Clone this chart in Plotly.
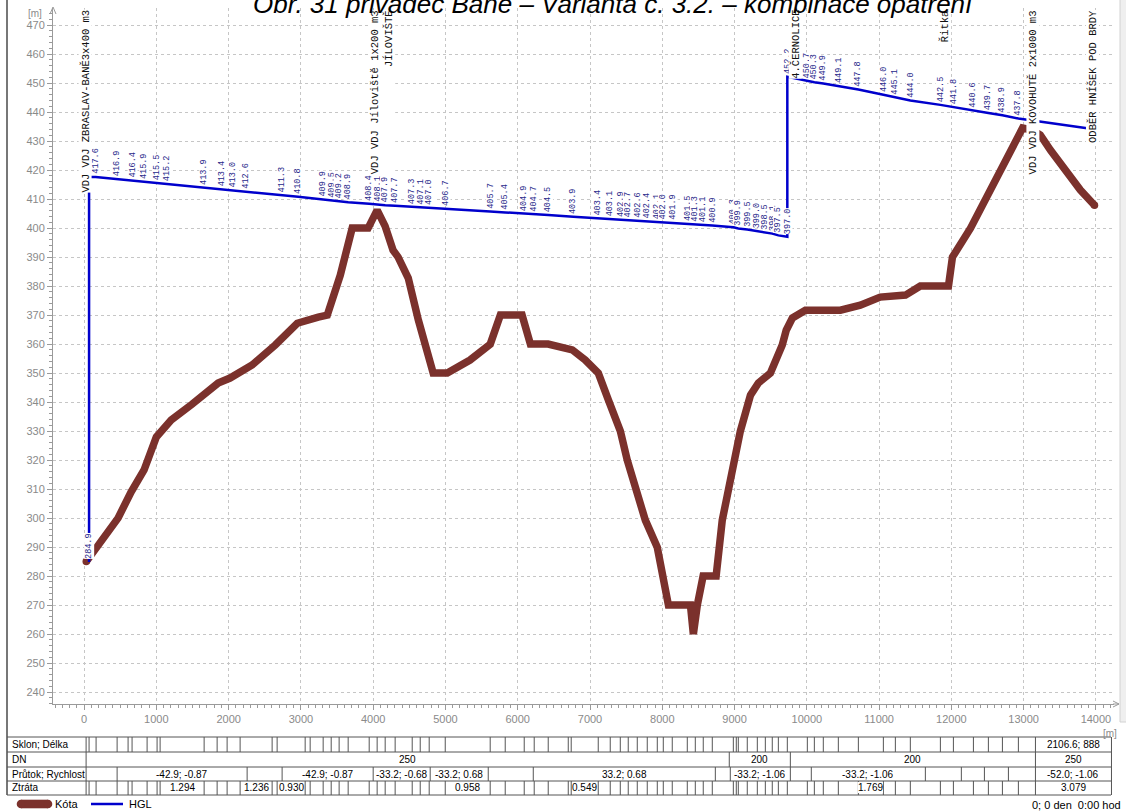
import plotly.graph_objects as go

# ---------------- profil: terén (kóta) ----------------
kota_st = [30, 470, 650, 830, 1000, 1205, 1495, 1855, 2020, 2325,
           2645, 2950, 3240, 3365, 3545, 3710, 3930, 4055, 4165, 4275,
           4345, 4485, 4625, 4750, 4830, 5025, 5340, 5620, 5760, 6060,
           6175, 6420, 6755, 6935, 7115, 7255, 7420, 7515, 7625, 7765,
           7930, 8000, 8085, 8390, 8430, 8485, 8565, 8745, 8830, 8900,
           8985, 9080, 9220, 9330, 9495, 9660, 9715, 9800, 9980, 10465,
           10740, 11015, 11365, 11570, 11960, 12015, 12265, 12470, 12680, 12885,
           12985, 13120, 13230, 13370, 13580, 13785, 13980]
kota_z = [285.0, 300.0, 309.0, 316.6, 328.0, 333.8, 339.3, 346.6, 348.3, 352.8,
          359.7, 367.2, 369.3, 370.0, 383.8, 400.0, 400.0, 406.2, 400.7, 392.4,
          390.0, 382.8, 368.3, 357.9, 350.0, 350.0, 354.5, 360.0, 370.0, 370.0,
          360.0, 360.0, 358.0, 354.5, 350.0, 340.7, 330.0, 320.0, 310.0, 299.3,
          290.0, 280.0, 270.0, 270.0, 260.0, 270.0, 280.0, 280.0, 299.3, 307.9,
          320.0, 330.0, 342.4, 346.6, 350.0, 359.7, 364.8, 369.0, 371.7, 371.7,
          373.4, 376.2, 376.9, 380.0, 380.0, 390.0, 400.0, 410.0, 420.0, 430.0,
          434.5, 433.8, 432.1, 426.9, 420.0, 413.1, 407.9]

# ---------------- čára energie (HGL) ----------------
hgl_st = [69, 69, 160, 457, 664, 830, 1010, 1149, 1661, 1910,
          2062, 2228, 2740, 2962, 3308, 3419, 3529, 3654, 3945, 4055,
          4166, 4304, 4540, 4651, 4775, 4997, 5619, 5827, 6090, 6228,
          6422, 6768, 7114, 7280, 7419, 7529, 7654, 7792, 7931, 8014,
          8138, 8346, 8457, 8567, 8692, 8983, 9052, 9176, 9315, 9426,
          9522, 9606, 9730, 9730, 10007, 10104, 10228, 10436, 10713, 11059,
          11225, 11432, 11848, 12028, 12305, 12512, 12706, 12927, 13952]
hgl_z = [284.9, 417.6, 417.6, 416.9, 416.4, 415.9, 415.5, 415.2, 413.9, 413.4,
         413.0, 412.6, 411.3, 410.8, 409.9, 409.5, 409.2, 408.9, 408.4, 408.1,
         407.9, 407.7, 407.3, 407.1, 407.0, 406.7, 405.7, 405.4, 404.9, 404.7,
         404.5, 403.9, 403.4, 403.1, 402.9, 402.7, 402.6, 402.4, 402.1, 402.0,
         401.9, 401.5, 401.3, 401.1, 400.9, 400.3, 399.9, 399.5, 399.0, 398.5,
         398.1, 397.5, 397.0, 452.2, 450.7, 450.3, 449.9, 449.1, 447.8, 446.0,
         445.1, 444.0, 442.5, 441.8, 440.6, 439.7, 438.9, 437.8, 434.2]
# uzel bez popisku (horní konec stoupačky u prvního VDJ)
bez_popisu = [1]

# ---------------- názvy uzlů ----------------
uzel_st = [14, 4125, 9840, 11900, 13121, 13952]
uzel_txt = ["VDJ VDJ ZBRASLAV-BANĚ3x400 m3",
            "VDJ VDJ Jílovištĕ 1x200 m3<br>JÍLOVIŠTĚ",
            "4.ČERNOLICE",
            "Řitka",
            "VDJ VDJ KOVOHUTĚ 2x1000 m3",
            "ODBĚR HNÍŠEK POD BRDY"]

# ---------------- tabulka úseků ----------------
tab_zacatek, tab_konec = 28, 14215
uzly_tab = [69, 166, 457, 609, 664, 872, 1010, 1052, 1661, 1841,
            1979, 2159, 2602, 2671, 3059, 3128, 3308, 3419, 3529, 3654,
            3945, 4055, 4166, 4304, 4540, 4651, 4775, 4997, 5619, 5827,
            6090, 6228, 6422, 6699, 6740, 7114, 7280, 7419, 7529, 7654,
            7792, 7931, 8014, 8138, 8346, 8457, 8567, 8692, 8983, 9024,
            9052, 9176, 9315, 9426, 9522, 9606, 9730, 10007, 10104, 10228,
            10436, 10713, 11059, 11225, 11432, 11848, 12028, 12305, 12512, 12706,
            12927, 13163]
sklon_txt = "2106.6; 888"            # poslední úsek
dn_hranice = [28, 8927, 9772, 13163, 14215]
dn_txt = ["250", "200", "200", "250"]
prutok_hranice = [28, 457, 2256, 2740, 4000, 4789, 5592, 6215, 8734, 8941,
                  9772, 10062, 11640, 12138, 12457, 12789, 13163, 14215]
prutok_txt = ["", "-42.9; -0.87", "", "-42.9; -0.87", "-33.2; -0.68", "-33.2; 0.68",
              "", "33.2; 0.68", "", "-33.2; -1.06", "", "-33.2; -1.06",
              "", "", "", "", "-52.0; -1.06"]
ztrata_od = [1052, 2159, 2671, 4997, 6740, 10713, 13163]
ztrata_do = [1661, 2602, 3059, 5619, 7114, 11059, 14215]
ztrata_txt = ["1.294", "1.236", "0.930", "0.958", "0.549", "1.769", "3.079"]
radky = ["Sklon; Délka", "DN", "Průtok; Rychlost", "Ztráta"]

# ---------------- vzhled ----------------
W, H = 1126, 811
ML, MR, MT, MB = 53, 12, 8, 107
PW = W - ML - MR
PH = H - MT - MB
C_KOTA = "#7b312c"
C_HGL = "#0000cc"
C_POPIS = "#27278a"
C_GRID = "#c6c6c6"
C_AX = "#9a9a9a"
C_TICK = "#8a8a8a"
C_TAB = "#555555"
F_SANS = "Liberation Sans, Arial, sans-serif"
F_MONO = "Liberation Mono, Courier New, monospace"


def px(xp):
    return (xp - ML) / PW


def py(yp):
    return (H - MB - yp) / PH


fig = go.Figure()
fig.add_trace(go.Scatter(x=kota_st, y=kota_z, mode="lines", name="Kóta",
                         line=dict(color=C_KOTA, width=7.5), hoverinfo="skip"))
fig.add_trace(go.Scatter(x=[kota_st[0], kota_st[-1]], y=[kota_z[0], kota_z[-1]],
                         mode="markers", marker=dict(color=C_KOTA, size=7.5),
                         hoverinfo="skip"))
fig.add_trace(go.Scatter(x=hgl_st, y=hgl_z, mode="lines", name="HGL",
                         line=dict(color=C_HGL, width=2.5), hoverinfo="skip"))

ann = []
shapes = []

# popisky hodnot HGL
for i, (s, z) in enumerate(zip(hgl_st, hgl_z)):
    if i in bez_popisu:
        continue
    ann.append(dict(x=s, y=z, xref="x", yref="y", text=f"{z:.1f}", textangle=-90,
                    showarrow=False, xanchor="center", yanchor="bottom", yshift=3,
                    font=dict(family=F_MONO, size=8.5, color=C_POPIS),
                    bgcolor="white", borderpad=0, borderwidth=0))

# názvy uzlů
for s, t in zip(uzel_st, uzel_txt):
    ann.append(dict(x=s, y=1, xref="x", yref="paper", text=t, textangle=-90,
                    showarrow=False, xanchor="center", yanchor="top", yshift=-2,
                    align="right", font=dict(family=F_MONO, size=10.5, color="#111111"),
                    bgcolor="white", borderpad=0, borderwidth=0))

# nadpis (horní okraj přesahuje okno)
ann.append(dict(x=px(614), y=py(21), xref="paper", yref="paper", showarrow=False,
                xanchor="center", yanchor="bottom",
                text="<i>Obr. 31 přivaděč Baně – Varianta č. 3.2. – kombinace opatření</i>",
                font=dict(family=F_SANS, size=26, color="black")))

# jednotky os
ann.append(dict(x=px(44), y=py(14), xref="paper", yref="paper", showarrow=False,
                xanchor="right", yanchor="middle", text="[m]",
                font=dict(family=F_SANS, size=10, color=C_TICK)))
ann.append(dict(x=px(1119), y=py(733), xref="paper", yref="paper", showarrow=False,
                xanchor="right", yanchor="middle", text="[m]",
                font=dict(family=F_SANS, size=10, color=C_TICK)))

# šipky na koncích os
shapes.append(dict(type="path", xref="paper", yref="paper",
                   path=f"M{px(50)},{py(14)} L{px(53)},{py(7)} L{px(56)},{py(14)}",
                   line=dict(color=C_AX, width=1)))
shapes.append(dict(type="line", xref="paper", yref="paper", x0=px(1113), x1=px(1119),
                   y0=py(704), y1=py(704), line=dict(color=C_AX, width=1)))
shapes.append(dict(type="path", xref="paper", yref="paper",
                   path=f"M{px(1113)},{py(701)} L{px(1119)},{py(704)} L{px(1113)},{py(707)}",
                   line=dict(color=C_AX, width=1)))

# levý rám okna a pruh vpravo
shapes.append(dict(type="line", xref="paper", yref="paper", x0=px(7), x1=px(7),
                   y0=py(-5), y1=py(795), line=dict(color="#4a4a4a", width=1.5)))
shapes.append(dict(type="rect", xref="paper", yref="paper", x0=px(1120), x1=px(1128),
                   y0=py(-5), y1=py(722), fillcolor="#efefef",
                   line=dict(color="#d2d2d2", width=1)))

# ---------------- tabulka ----------------
row_y = [737, 752, 767, 781, 795]
for yy in row_y:
    shapes.append(dict(type="line", xref="paper", yref="paper", x0=px(7), x1=px(1111),
                       y0=py(yy), y1=py(yy), line=dict(color=C_TAB, width=1)))
for xx in (tab_zacatek, tab_konec):
    shapes.append(dict(type="line", xref="x", yref="paper", x0=xx, x1=xx,
                       y0=py(737), y1=py(795), line=dict(color=C_TAB, width=1)))


def vline(st, r):
    shapes.append(dict(type="line", xref="x", yref="paper", x0=st, x1=st,
                       y0=py(row_y[r]), y1=py(row_y[r + 1]),
                       line=dict(color=C_TAB, width=1)))


def cell_text(a, b, r, t):
    ann.append(dict(x=(a + b) / 2, y=py((row_y[r] + row_y[r + 1]) / 2), xref="x",
                    yref="paper", text=t, showarrow=False, xanchor="center",
                    yanchor="middle", font=dict(family=F_SANS, size=10, color="black"),
                    bgcolor="white", borderpad=0, borderwidth=0))


for s in uzly_tab:
    vline(s, 0)
    vline(s, 3)
cell_text(uzly_tab[-1], tab_konec, 0, sklon_txt)
for s in dn_hranice[1:-1]:
    vline(s, 1)
for a, b, t in zip(dn_hranice[:-1], dn_hranice[1:], dn_txt):
    cell_text(a, b, 1, t)
for s in prutok_hranice[1:-1]:
    vline(s, 2)
for a, b, t in zip(prutok_hranice[:-1], prutok_hranice[1:], prutok_txt):
    if t:
        cell_text(a, b, 2, t)
for a, b, t in zip(ztrata_od, ztrata_do, ztrata_txt):
    cell_text(a, b, 3, t)

for r, t in enumerate(radky):
    ann.append(dict(x=px(10), y=py((row_y[r] + row_y[r + 1]) / 2), xref="paper",
                    yref="paper", text=t, showarrow=False, xanchor="left",
                    yanchor="middle", font=dict(family=F_SANS, size=10, color="black")))

# ---------------- legenda ----------------
ly = 804
shapes.append(dict(type="rect", xref="paper", yref="paper", x0=px(21), x1=px(48),
                   y0=py(ly - 4.3), y1=py(ly + 4.3), fillcolor=C_KOTA, line=dict(width=0)))
for cx in (21, 48):
    shapes.append(dict(type="circle", xref="paper", yref="paper", x0=px(cx - 4.3),
                       x1=px(cx + 4.3), y0=py(ly - 4.3), y1=py(ly + 4.3),
                       fillcolor=C_KOTA, line=dict(width=0)))
ann.append(dict(x=px(53), y=py(ly), xref="paper", yref="paper", text="Kóta",
                showarrow=False, xanchor="left", yanchor="middle",
                font=dict(family=F_SANS, size=11, color="black")))
shapes.append(dict(type="line", xref="paper", yref="paper", x0=px(91), x1=px(123),
                   y0=py(ly), y1=py(ly), line=dict(color=C_HGL, width=2.5)))
ann.append(dict(x=px(127), y=py(ly), xref="paper", yref="paper", text="HGL",
                showarrow=False, xanchor="left", yanchor="middle",
                font=dict(family=F_SANS, size=11, color="black")))
ann.append(dict(x=px(1123), y=py(805), xref="paper", yref="paper", text="0; 0 den  0:00 hod",
                showarrow=False, xanchor="right", yanchor="middle",
                font=dict(family=F_SANS, size=11, color="black")))

fig.update_layout(
    width=W, height=H, autosize=False,
    margin=dict(l=ML, r=MR, t=MT, b=MB, pad=0),
    paper_bgcolor="white", plot_bgcolor="white",
    showlegend=False, hovermode=False,
    font=dict(family=F_SANS, size=11, color="black"),
    xaxis=dict(range=[-430, 14250], tick0=0, dtick=1000, tickformat="d",
               showgrid=True, gridcolor=C_GRID, griddash="3px,3px", gridwidth=1,
               zeroline=False, showline=True, linecolor=C_AX, linewidth=1,
               ticks="outside", ticklen=5, tickcolor=C_AX,
               tickfont=dict(family=F_SANS, size=11, color=C_TICK),
               minor=dict(dtick=100, tick0=0, ticks="outside", ticklen=3,
                          tickcolor=C_AX, showgrid=False)),
    yaxis=dict(range=[235.9, 475.9], tick0=240, dtick=10, tickformat="d",
               showgrid=True, gridcolor=C_GRID, griddash="3px,3px", gridwidth=1,
               zeroline=False, showline=True, linecolor=C_AX, linewidth=1,
               ticks="outside", ticklen=5, tickcolor=C_AX,
               tickfont=dict(family=F_SANS, size=11, color=C_TICK),
               minor=dict(dtick=2, tick0=240, ticks="outside", ticklen=3,
                          tickcolor=C_AX, showgrid=False)),
    annotations=ann,
    shapes=shapes,
)

fig.write_html("out.html")
